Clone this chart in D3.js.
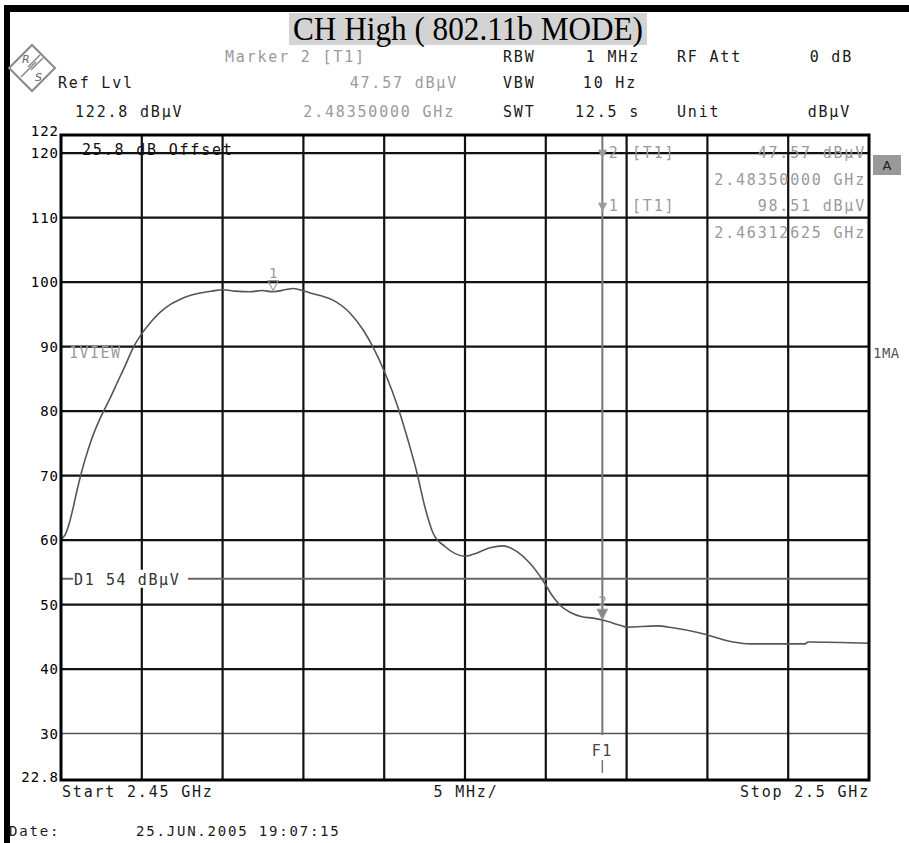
<!DOCTYPE html>
<html>
<head>
<meta charset="utf-8">
<script src="https://cdn.jsdelivr.net/npm/d3@7"></script>
<style>
  html, body { margin: 0; padding: 0; background: #fff; }
  svg { display: block; }
  .mono { font-family: "DejaVu Sans Mono", "Liberation Mono", monospace; }
</style>
</head>
<body>
<svg id="chart" width="909" height="843"></svg>
<script>
// ---------- data ----------
const title = "CH High ( 802.11b MODE)";
const startGHz = 2.45;
const stopGHz = 2.50;
const refLevel = 122.8;     // dBµV, top of screen
const bottomLevel = 22.8;   // dBµV, bottom of screen
const yTicks = [30, 40, 50, 60, 70, 80, 90, 100, 110, 120];
const yTickLabels = ["30", "40", "50", "60", "70", "80", "90", "100", "110", "120"];
const xGrid = [2.455, 2.46, 2.465, 2.47, 2.475, 2.48, 2.485, 2.49, 2.495];

// trace: frequency offset from start (MHz) and level (dBµV)
const traceMHz = [0, 0.25, 0.5, 0.75, 1.0, 1.3, 1.7, 2.1, 2.5, 3.0, 3.5, 4.0, 4.46, 5.0,
  5.63, 6.13, 6.75, 7.36, 7.98, 8.6, 9.34, 10.02, 10.77, 11.7, 12.44, 13.13, 13.86, 14.36, 14.79,
  15.41, 16.03, 16.83, 17.88, 18.69, 19.31, 20.05, 20.85, 21.47, 22.03, 22.52, 23.02, 23.76, 25.0,
  25.5, 26.55, 27.35, 28.22, 29.02, 29.83, 30.45, 30.88, 31.5, 32.24, 32.92, 33.5, 34.59, 35.02,
  36.88, 37.87, 39.54, 41.58, 42.64, 46.04, 46.23, 50.0];
const traceLevel = [60.2, 60.8, 62.5, 65.0, 67.8, 70.8, 74.2, 77.0, 79.3, 81.8, 84.5, 87.2, 89.8, 92.0,
  94.0, 95.3, 96.5, 97.3, 97.9, 98.3, 98.6, 98.8, 98.6, 98.5, 98.7, 98.5, 98.8, 99.0, 98.8,
  98.3, 97.9, 97.2, 95.2, 92.6, 89.9, 85.9, 80.6, 75.5, 70.4, 65.1, 61.1, 59.0, 57.5,
  57.8, 58.8, 59.1, 58.2, 56.4, 53.7, 51.2, 49.9, 48.8, 48.1, 47.9, 47.6, 46.8, 46.5,
  46.7, 46.4, 45.6, 44.2, 43.9, 43.9, 44.2, 44.0];

// markers
const markerIds = ["1", "2"];
const markerGHz = [2.46312625, 2.4835];
const markerLevel = [98.51, 47.57];
const displayLine = 54;        // D1, dBµV
const freqLineGHz = 2.4835;    // F1

// ---------- drawing ----------
const svg = d3.select("#chart");
const x = d3.scaleLinear().domain([startGHz, stopGHz]).range([61, 869]);
const y = d3.scaleLinear().domain([bottomLevel, refLevel]).range([780, 135]);

const GRAY = "#9a9a9a";
const DARK = "#1a1a1a";

function mono(sel, size, ls) {
  return sel.attr("class", "mono").attr("font-size", size).attr("letter-spacing", ls);
}

// outer frame
svg.append("rect").attr("x", 4).attr("y", 5).attr("width", 6).attr("height", 838).attr("fill", "#000");
svg.append("rect").attr("x", 4).attr("y", 5).attr("width", 905).attr("height", 7).attr("fill", "#000");

// title
const tg = svg.append("g");
tg.append("rect").attr("x", 289).attr("y", 13).attr("width", 358).attr("height", 32).attr("fill", "#d3d3d3");
tg.append("text").attr("x", 468).attr("y", 40).attr("text-anchor", "middle")
  .attr("font-family", "Liberation Serif, Times New Roman, serif").attr("font-size", 33)
  .attr("textLength", 350).attr("lengthAdjust", "spacingAndGlyphs")
  .attr("fill", "#000").text(title);

// logo
const lg = svg.append("g").attr("transform", "translate(32,68)");
lg.append("path").attr("d", "M0,-23 L23,0 L0,23 L-23,0 Z").attr("fill", "none").attr("stroke", "#888").attr("stroke-width", 2);
lg.append("path").attr("d", "M-4,-1 L8,-13 M-1,2 L11,-10 M-8,6 L4,-6 M-11,9 L1,-3").attr("stroke", "#888").attr("stroke-width", 1.5);
lg.append("text").attr("x", -10).attr("y", -5).attr("font-size", 11).attr("font-family", "DejaVu Sans").attr("fill", "#666").attr("font-style", "italic").text("R");
lg.append("text").attr("x", 3).attr("y", 13).attr("font-size", 11).attr("font-family", "DejaVu Sans").attr("fill", "#666").attr("font-style", "italic").text("S");

// header
const header = [
  // [text, x, y, anchor, color]
  ["Marker 2 [T1]", 225, 62, "start", GRAY],
  ["RBW", 503, 62, "start", DARK],
  ["1 MHz", 640, 62, "end", DARK],
  ["RF Att", 677, 62, "start", DARK],
  ["0 dB", 853, 62, "end", DARK],
  ["Ref Lvl", 58, 88, "start", DARK],
  ["47.57 dBµV", 458, 88, "end", GRAY],
  ["VBW", 503, 88, "start", DARK],
  ["10 Hz", 637, 88, "end", DARK],
  ["122.8 dBµV", 75, 117, "start", DARK],
  ["2.48350000 GHz", 455, 117, "end", GRAY],
  ["SWT", 503, 117, "start", DARK],
  ["12.5 s", 640, 117, "end", DARK],
  ["Unit", 677, 117, "start", DARK],
  ["dBµV", 851, 117, "end", DARK]
];
header.forEach(h => {
  mono(svg.append("text"), 15, 1.8).attr("x", h[1]).attr("y", h[2]).attr("text-anchor", h[3])
    .attr("fill", h[4]).text(h[0]);
});

// grid
const grid = svg.append("g");
grid.selectAll("line.h").data(yTicks).join("line")
  .attr("x1", x(startGHz)).attr("x2", x(stopGHz))
  .attr("y1", d => y(d)).attr("y2", d => y(d))
  .attr("stroke", d => d === 30 ? "#555" : "#111").attr("stroke-width", d => d === 30 ? 1.6 : 2.2);
grid.selectAll("line.v").data(xGrid).join("line")
  .attr("x1", d => x(d)).attr("x2", d => x(d))
  .attr("y1", y(refLevel)).attr("y2", y(bottomLevel))
  .attr("stroke", "#111").attr("stroke-width", 2.2);

// D1 display line
const d1y = y(displayLine);
svg.append("line").attr("x1", x(startGHz)).attr("x2", 73).attr("y1", d1y).attr("y2", d1y).attr("stroke", "#666").attr("stroke-width", 2);
svg.append("line").attr("x1", 188).attr("x2", x(stopGHz)).attr("y1", d1y).attr("y2", d1y).attr("stroke", "#666").attr("stroke-width", 2);
svg.append("rect").attr("x", 73).attr("y", d1y - 9).attr("width", 115).attr("height", 18).attr("fill", "#fff");
mono(svg.append("text"), 15, 1.6).attr("x", 74).attr("y", d1y + 6).attr("fill", "#333").text("D1 54 dBµV");

// F1 frequency line
const f1x = x(freqLineGHz);
svg.append("line").attr("x1", f1x).attr("x2", f1x).attr("y1", y(refLevel)).attr("y2", 735)
  .attr("stroke", "#777").attr("stroke-width", 2);
svg.append("line").attr("x1", f1x).attr("x2", f1x).attr("y1", 760).attr("y2", 773)
  .attr("stroke", "#777").attr("stroke-width", 1.5);
mono(svg.append("text"), 15, 1.5).attr("x", f1x).attr("y", 756).attr("text-anchor", "middle").attr("fill", "#444").text("F1");

// y axis labels
svg.append("g").selectAll("text").data(yTicks).join("text")
  .attr("class", "mono").attr("font-size", 14).attr("letter-spacing", 1)
  .attr("x", 59).attr("y", d => y(d) + 5).attr("text-anchor", "end").attr("fill", "#000")
  .text((d, i) => yTickLabels[i]);
mono(svg.append("text"), 14, 1).attr("x", 59).attr("y", y(refLevel) + 1).attr("text-anchor", "end").attr("fill", "#000").text("122");
mono(svg.append("text"), 14, 1).attr("x", 59).attr("y", y(bottomLevel) + 2).attr("text-anchor", "end").attr("fill", "#000").text("22.8");

// in-plot annotations
mono(svg.append("text"), 15, 1.8).attr("x", 82).attr("y", 155).attr("fill", "#111").text("25.8 dB Offset");
mono(svg.append("text"), 15, 1.5).attr("x", 69).attr("y", 358).attr("fill", GRAY).text("1VIEW");
mono(svg.append("text"), 14, 0.5).attr("x", 873).attr("y", 358).attr("fill", "#555").text("1MA");
svg.append("rect").attr("x", 873).attr("y", 155).attr("width", 28).attr("height", 20).attr("fill", "#999");
svg.append("text").attr("x", 887).attr("y", 170).attr("text-anchor", "middle").attr("font-family", "DejaVu Sans").attr("font-size", 13).attr("fill", "#222").text("A");

const info = [
  ["\u25BC2", 598, 158, "start"], ["[T1]", 632, 158, "start"], ["47.57 dBµV", 866, 158, "end"],
  ["2.48350000 GHz", 866, 185, "end"],
  ["\u25BC1", 598, 211, "start"], ["[T1]", 632, 211, "start"], ["98.51 dBµV", 866, 211, "end"],
  ["2.46312625 GHz", 866, 238, "end"]
];
info.forEach(t => {
  mono(svg.append("text"), 15, 1.8).attr("x", t[1]).attr("y", t[2]).attr("text-anchor", t[3]).attr("fill", GRAY).text(t[0]);
});

// trace
const pts = traceMHz.map((m, i) => [startGHz + m / 1000, traceLevel[i]]);
const line = d3.line().x(d => x(d[0])).y(d => y(d[1])).curve(d3.curveMonotoneX);
svg.append("path").datum(pts).attr("d", line).attr("fill", "none").attr("stroke", "#555").attr("stroke-width", 1.6);

// markers
markerIds.forEach((id, i) => {
  const mx = x(markerGHz[i]), my = y(markerLevel[i]);
  const filled = id === "2";
  svg.append("path").attr("d", `M${mx - 5},${my - 11} L${mx + 5},${my - 11} L${mx},${my - 1} Z`)
    .attr("fill", filled ? "#888" : "none").attr("stroke", "#999").attr("stroke-width", 1.2);
  mono(svg.append("text"), 14, 0).attr("x", mx).attr("y", my - 14).attr("text-anchor", "middle").attr("fill", "#999").text(id);
});

// plot border
svg.append("rect").attr("x", x(startGHz)).attr("y", y(refLevel)).attr("width", x(stopGHz) - x(startGHz))
  .attr("height", y(bottomLevel) - y(refLevel)).attr("fill", "none").attr("stroke", "#000").attr("stroke-width", 3);

// bottom labels
mono(svg.append("text"), 15, 1.8).attr("x", 62).attr("y", 797).attr("fill", DARK).text("Start 2.45 GHz");
mono(svg.append("text"), 15, 1.8).attr("x", 466).attr("y", 797).attr("text-anchor", "middle").attr("fill", DARK).text("5 MHz/");
mono(svg.append("text"), 15, 1.8).attr("x", 870).attr("y", 797).attr("text-anchor", "end").attr("fill", DARK).text("Stop 2.5 GHz");
mono(svg.append("text"), 14, 1.8).attr("x", 9).attr("y", 836).attr("fill", DARK).text("Date:");
mono(svg.append("text"), 14, 1.8).attr("x", 136).attr("y", 836).attr("fill", DARK).text("25.JUN.2005  19:07:15");
</script>
</body>
</html>
